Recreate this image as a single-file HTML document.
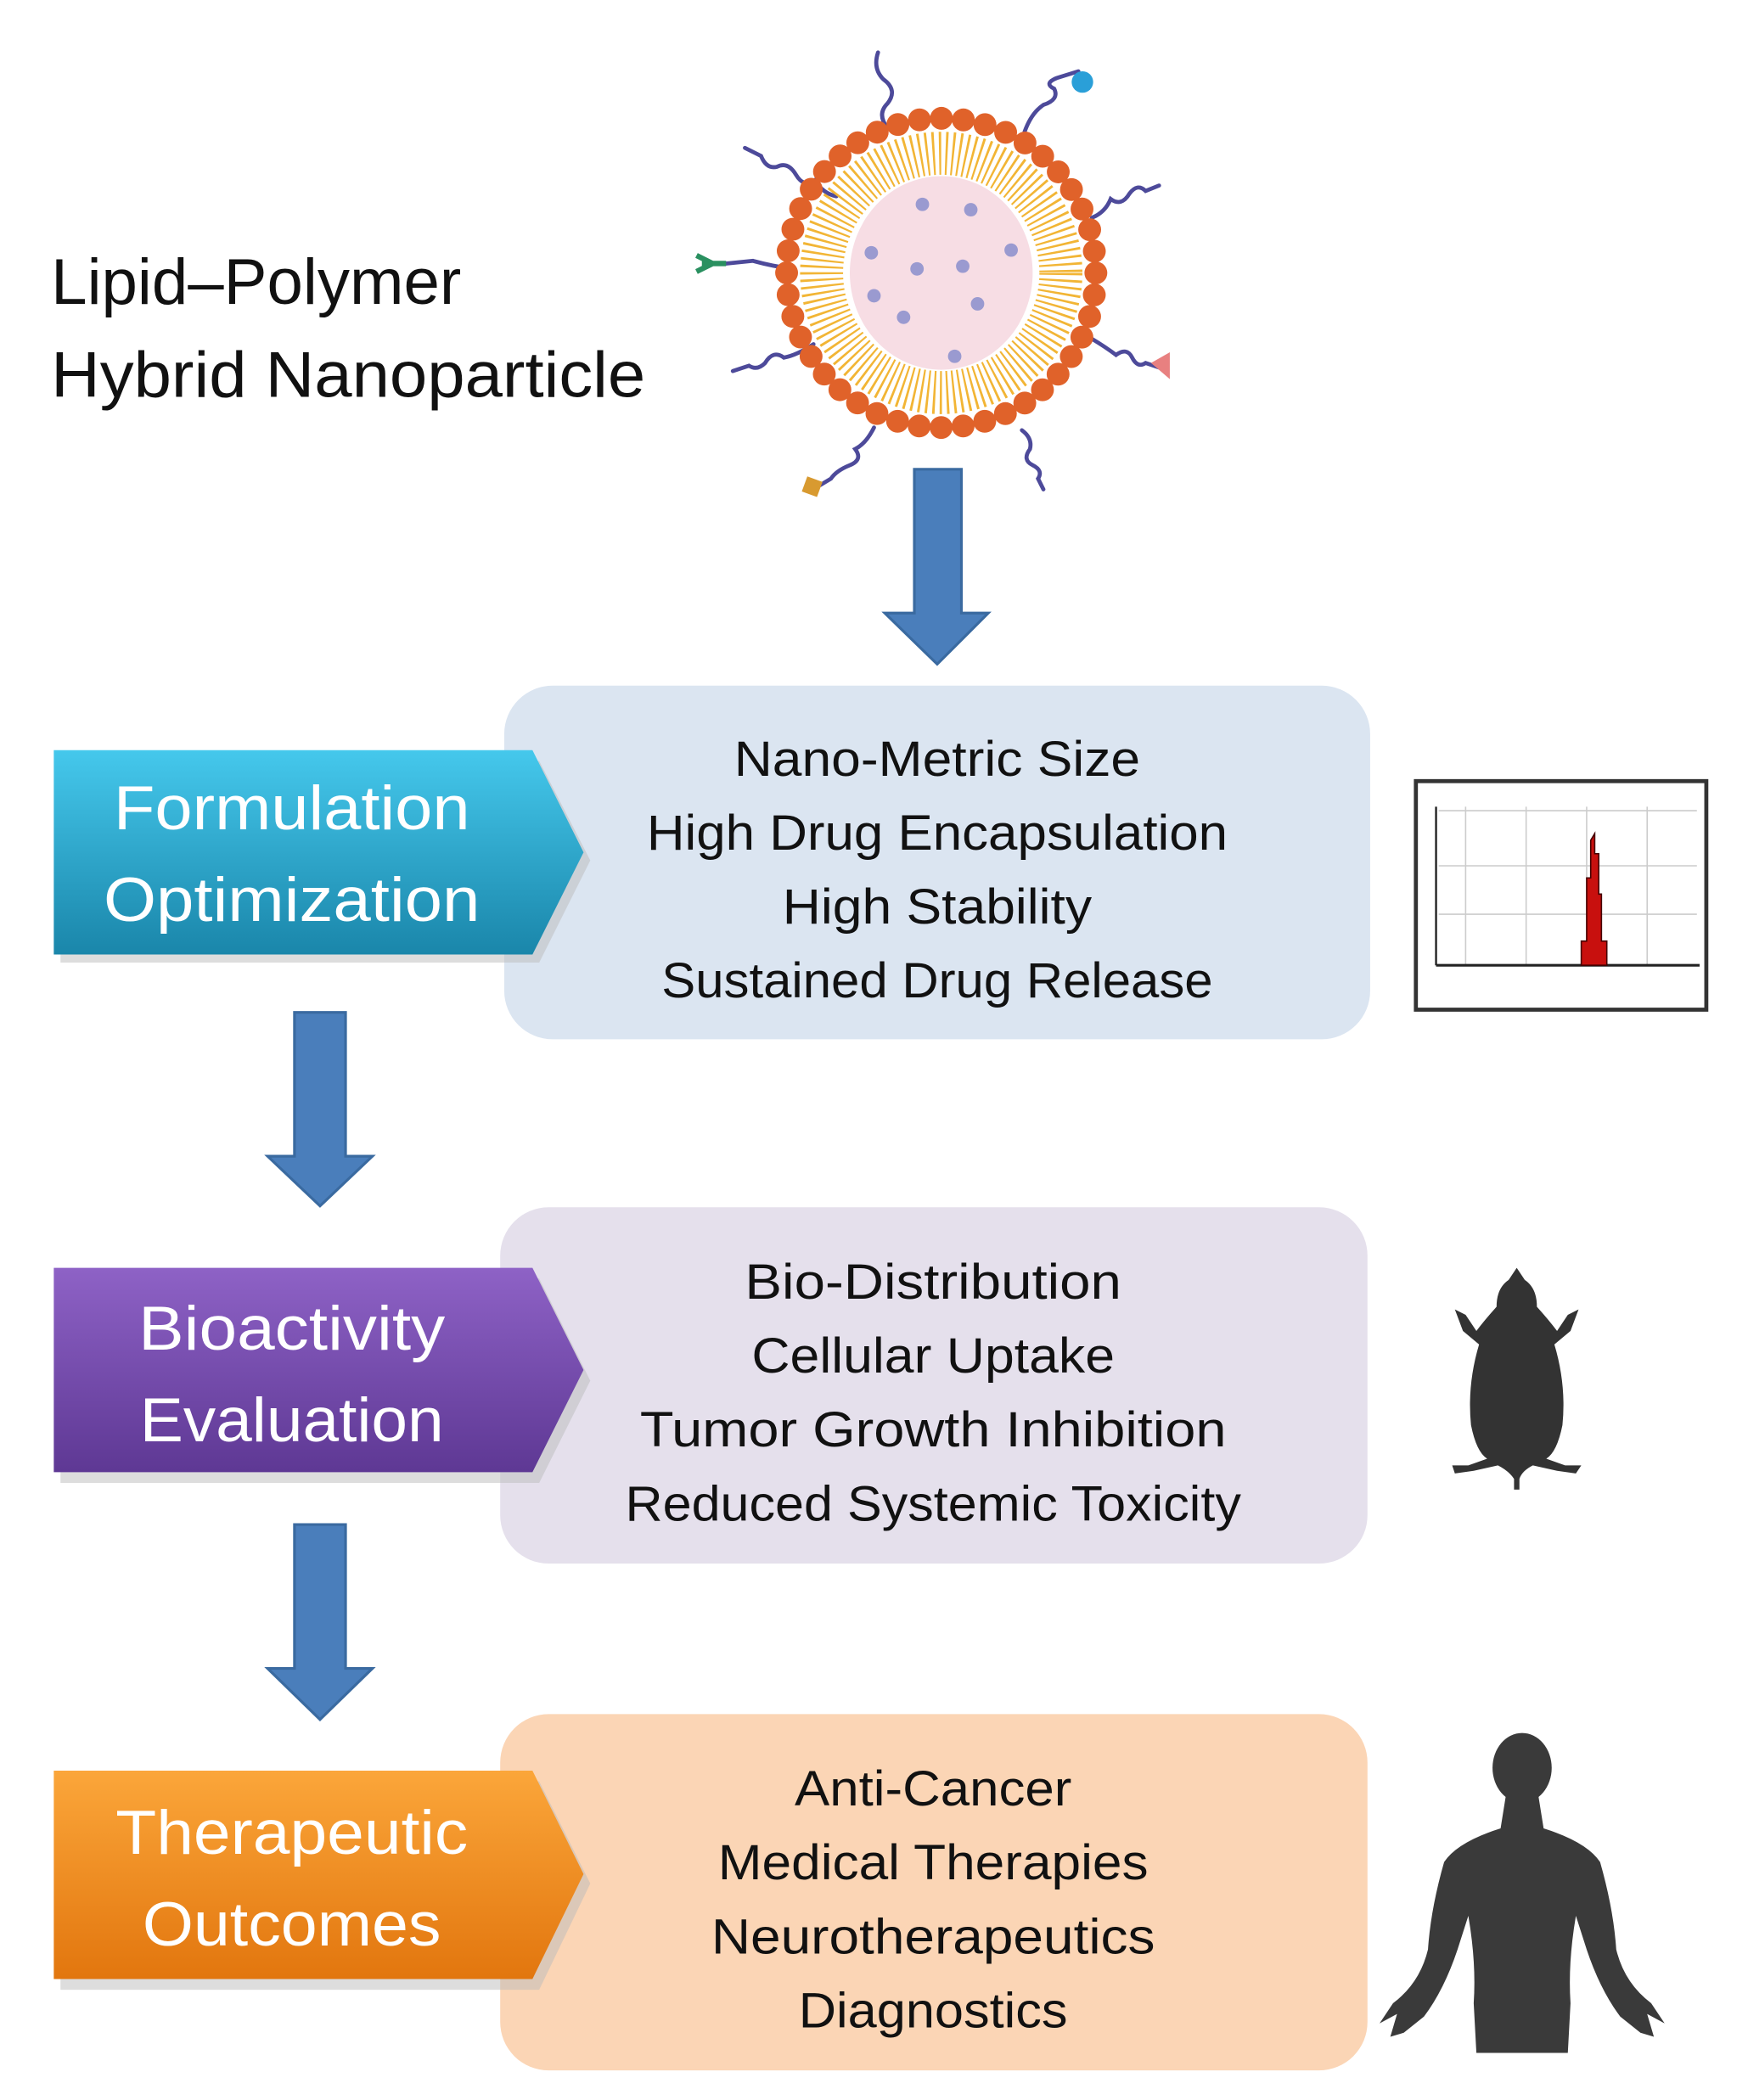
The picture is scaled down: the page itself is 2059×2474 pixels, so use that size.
<!DOCTYPE html>
<html><head><meta charset="utf-8"><style>
html,body{margin:0;padding:0;background:#fff;}
svg{display:block;}
text{font-family:"Liberation Sans",sans-serif;}
</style></head><body>
<svg width="2059" height="2474" viewBox="0 0 1300 1562" xmlns="http://www.w3.org/2000/svg">
<defs>
<linearGradient id="gb" x1="0" y1="0" x2="0" y2="1"><stop offset="0" stop-color="#45c8ec"/><stop offset="1" stop-color="#1a86aa"/></linearGradient>
<linearGradient id="gp" x1="0" y1="0" x2="0" y2="1"><stop offset="0" stop-color="#8e62c6"/><stop offset="1" stop-color="#5e3894"/></linearGradient>
<linearGradient id="go" x1="0" y1="0" x2="0" y2="1"><stop offset="0" stop-color="#fba63a"/><stop offset="1" stop-color="#e2760e"/></linearGradient>
</defs>
<rect width="1300" height="1562" fill="#fff"/>
<text x="38" y="226" font-size="48" fill="#111" textLength="305" lengthAdjust="spacingAndGlyphs">Lipid–Polymer</text>
<text x="38" y="295" font-size="48" fill="#111" textLength="442" lengthAdjust="spacingAndGlyphs">Hybrid Nanoparticle</text>
<!-- nanoparticle -->
<g fill="none" stroke="#4d4a9a" stroke-width="3" stroke-linecap="round">
<path d="M660,95 q-8,-10 0,-18 q8,-10 -3,-18 q-8,-8 -4,-20"/>
<path d="M762,98 q5,-14 14,-20 q12,-4 8,-12 q-8,-4 2,-8 l16,-5"/>
<path d="M622,146 q-10,-2 -16,-12 q-8,6 -14,-4 q-6,-10 -14,-6 q-8,2 -12,-8 l-12,-6"/>
<path d="M812,162 q10,-4 14,-14 q8,6 14,-4 q6,-8 12,-2 l10,-4"/>
<path d="M590,200 q-16,-2 -30,-6 l-20,2"/>
<path d="M605,256 q-12,8 -22,10 q-8,-6 -14,4 q-6,6 -12,2 l-12,4"/>
<path d="M812,252 q10,6 18,12 q8,-6 12,2 q4,8 10,4 l12,4"/>
<path d="M650,318 q-6,12 -14,16 q6,8 -4,12 q-10,4 -14,10 l-10,6"/>
<path d="M760,320 q8,6 6,14 q-6,8 2,12 q8,4 4,10 l4,8"/>
</g>
<circle cx="805" cy="61" r="8" fill="#2a9fd8"/>
<rect x="598" y="356" width="12" height="12" fill="#d89a30" transform="rotate(20 604 362)"/>
<path d="M856,270 L870,262 L870,282 Z" fill="#e88080"/>
<path d="M518,190 L530,196 L518,202 M522,196 H540" stroke="#2a9060" stroke-width="4" fill="none"/>
<circle cx="700" cy="203" r="89" fill="none" stroke="#f2b535" stroke-width="32" stroke-dasharray="1.6 3.2"/>
<ellipse cx="700" cy="203" rx="68" ry="72" fill="#f7dde4"/>
<circle cx="700" cy="203" r="115" fill="none" stroke="#e0622a" stroke-width="17" stroke-linecap="round" stroke-dasharray="0 16.42"/>
<g fill="#9a9ad0">
<circle cx="686" cy="152" r="5"/><circle cx="722" cy="156" r="5"/><circle cx="648" cy="188" r="5"/><circle cx="682" cy="200" r="5"/><circle cx="716" cy="198" r="5"/><circle cx="752" cy="186" r="5"/><circle cx="650" cy="220" r="5"/><circle cx="727" cy="226" r="5"/><circle cx="672" cy="236" r="5"/><circle cx="710" cy="265" r="5"/>
</g>
<!-- arrows -->
<g fill="#4a7ebb" stroke="#3a6aa0" stroke-width="2">
<path d="M680,349 H715 V456 H735 L697,494 L658,456 H680 Z"/>
<path d="M219,753 H257 V860 H277 L238,897 L199,860 H219 Z"/>
<path d="M219,1134 H257 V1241 H277 L238,1279 L199,1241 H219 Z"/>
</g>
<!-- boxes -->
<rect x="375" y="510" width="644" height="263" rx="36" fill="#dbe5f1"/>
<rect x="372" y="898" width="645" height="265" rx="36" fill="#e5e0ec"/>
<rect x="372" y="1275" width="645" height="265" rx="36" fill="#fbd5b5"/>
<!-- chevrons -->
<path d="M42,562 H398 L436,636 L398,712 H42 Z" fill="#bbb" opacity=".5" transform="translate(3,4)"/>
<path d="M40,558 H396 L434,634 L396,710 H40 Z" fill="url(#gb)"/>
<path d="M42,947 H398 L436,1023 L398,1099 H42 Z" fill="#bbb" opacity=".5" transform="translate(3,4)"/>
<path d="M40,943 H396 L434,1019 L396,1095 H40 Z" fill="url(#gp)"/>
<path d="M42,1321 H398 L436,1397 L398,1476 H42 Z" fill="#bbb" opacity=".5" transform="translate(3,4)"/>
<path d="M40,1317 H396 L434,1394 L396,1472 H40 Z" fill="url(#go)"/>
<g fill="#fff" font-size="46" text-anchor="middle">
<text x="217" y="617" textLength="265" lengthAdjust="spacingAndGlyphs">Formulation</text>
<text x="217" y="685" textLength="280" lengthAdjust="spacingAndGlyphs">Optimization</text>
<text x="217" y="1004" textLength="228" lengthAdjust="spacingAndGlyphs">Bioactivity</text>
<text x="217" y="1072" textLength="226" lengthAdjust="spacingAndGlyphs">Evaluation</text>
<text x="217" y="1379" textLength="262" lengthAdjust="spacingAndGlyphs">Therapeutic</text>
<text x="217" y="1447" textLength="222" lengthAdjust="spacingAndGlyphs">Outcomes</text>
</g>
<g fill="#111" font-size="37" text-anchor="middle">
<text x="697" y="577" textLength="302" lengthAdjust="spacingAndGlyphs">Nano-Metric Size</text>
<text x="697" y="632" textLength="432" lengthAdjust="spacingAndGlyphs">High Drug Encapsulation</text>
<text x="697" y="687" textLength="230" lengthAdjust="spacingAndGlyphs">High Stability</text>
<text x="697" y="742" textLength="410" lengthAdjust="spacingAndGlyphs">Sustained Drug Release</text>
<text x="694" y="966" textLength="280" lengthAdjust="spacingAndGlyphs">Bio-Distribution</text>
<text x="694" y="1021" textLength="270" lengthAdjust="spacingAndGlyphs">Cellular Uptake</text>
<text x="694" y="1076" textLength="436" lengthAdjust="spacingAndGlyphs">Tumor Growth Inhibition</text>
<text x="694" y="1131" textLength="458" lengthAdjust="spacingAndGlyphs">Reduced Systemic Toxicity</text>
<text x="694" y="1343" textLength="206" lengthAdjust="spacingAndGlyphs">Anti-Cancer</text>
<text x="694" y="1398" textLength="320" lengthAdjust="spacingAndGlyphs">Medical Therapies</text>
<text x="694" y="1453" textLength="330" lengthAdjust="spacingAndGlyphs">Neurotherapeutics</text>
<text x="694" y="1508" textLength="200" lengthAdjust="spacingAndGlyphs">Diagnostics</text>
</g>
<!-- chart -->
<rect x="1053" y="581" width="216" height="170" fill="#fff" stroke="#333" stroke-width="3"/>
<g stroke="#ccc" stroke-width="1">
<line x1="1070" y1="603" x2="1262" y2="603"/><line x1="1070" y1="644" x2="1262" y2="644"/><line x1="1070" y1="680" x2="1262" y2="680"/>
<line x1="1090" y1="600" x2="1090" y2="718"/><line x1="1135" y1="600" x2="1135" y2="718"/><line x1="1180" y1="600" x2="1180" y2="718"/><line x1="1225" y1="600" x2="1225" y2="718"/>
</g>
<line x1="1068" y1="718" x2="1264" y2="718" stroke="#222" stroke-width="2"/>
<line x1="1068" y1="600" x2="1068" y2="718" stroke="#222" stroke-width="1.5"/>
<path d="M1176,718 V700 L1180,700 V653 L1183,653 V625 L1186,620 V635 L1189,635 V665 L1191,665 V700 L1195,700 V718 Z" fill="#c8100e" stroke="#400" stroke-width="1"/>
<!-- mouse -->
<g fill="#333">
<path d="M1128,943 L1134,952 Q1143,958 1143,972 Q1152,982 1158,990 L1166,978 L1174,974 L1168,990 L1156,1000 Q1165,1030 1162,1060 Q1158,1080 1150,1085 L1164,1090 L1176,1090 L1172,1096 L1158,1094 L1140,1090 Q1132,1094 1130,1100 L1130,1108 L1126,1108 L1126,1100 Q1122,1094 1114,1090 L1096,1094 L1082,1096 L1080,1090 L1092,1090 L1106,1085 Q1098,1080 1094,1060 Q1091,1030 1100,1000 L1088,990 L1082,974 L1090,978 L1098,990 Q1104,982 1113,972 Q1113,958 1122,952 Z"/>
</g>
<!-- human -->
<g fill="#3a3a3a">
<ellipse cx="1132" cy="1315" rx="22" ry="26"/>
<path d="M1120,1335 H1144 L1148,1360 Q1180,1370 1190,1385 Q1200,1420 1202,1450 Q1208,1475 1228,1490 L1238,1505 L1225,1498 L1230,1515 L1220,1512 L1205,1500 Q1190,1480 1180,1450 L1172,1425 Q1166,1460 1168,1490 L1166,1527 H1098 L1096,1490 Q1098,1460 1092,1425 L1084,1450 Q1074,1480 1059,1500 L1044,1512 L1034,1515 L1039,1498 L1026,1505 L1036,1490 Q1056,1475 1062,1450 Q1064,1420 1074,1385 Q1084,1370 1116,1360 Z"/>
</g>
</svg>
</body></html>
